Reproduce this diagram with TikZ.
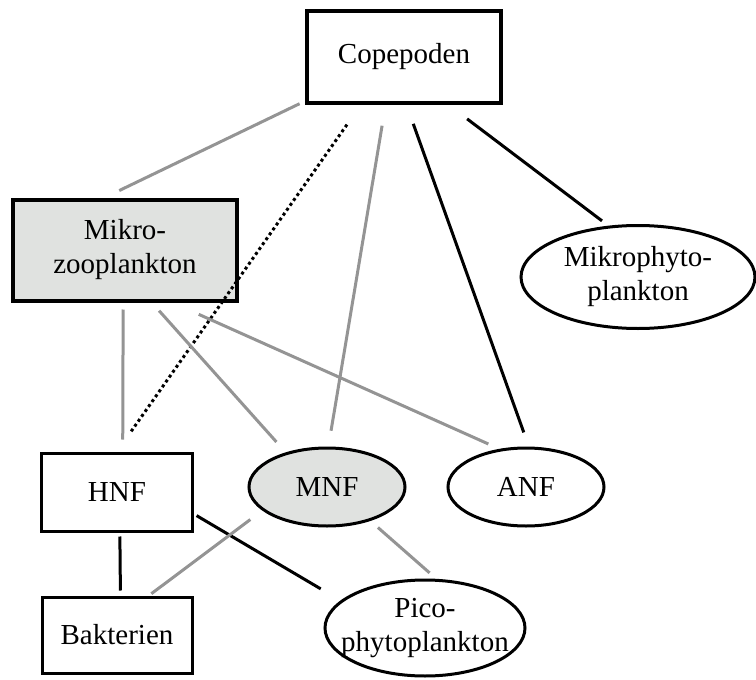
\documentclass[tikz,border=0pt]{standalone}
\usepackage{fontspec}
\setmainfont{Liberation Serif}
\usetikzlibrary{shapes.geometric}
\definecolor{linegray}{RGB}{148,148,148}
\definecolor{fillgray}{RGB}{224,226,224}
\newcommand{\nobox}[1]{\makebox[0pt]{#1}}

\begin{document}
\begin{tikzpicture}[x=1pt,y=-1pt]

\tikzset{box/.style = {shape=rectangle,draw,line width=3pt,inner sep=0pt,align=center,font=\fontsize{29}{34}\selectfont}}
\tikzset{oval/.style = {shape=ellipse,draw,line width=3pt,inner sep=0pt,align=center,font=\fontsize{29}{34}\selectfont}}
\tikzset{grayedge/.style = {draw=linegray,line width=3pt}}
\tikzset{blackedge/.style = {draw=black,line width=3pt}}
\tikzset{dotedge/.style = {draw=black,line width=3pt,dash pattern=on 3pt off 3pt}}

\useasboundingbox (0,0) rectangle (756,680);
%verticies
\node[box, line width=4pt, minimum width=194pt, minimum height=92pt] (cop) at (404,57) {Copepoden};
\node[box, line width=4pt, fill=fillgray, minimum width=224pt, minimum height=101pt] (mzoo) at (125,250) {Mikro-\\zooplankton};
\node[oval, minimum width=234pt, minimum height=103pt] (mphyto) at (638,277) {Mikrophyto-\\plankton};
\node[box, minimum width=151pt, minimum height=78pt] (hnf) at (117,492) {HNF};
\node[oval, fill=fillgray, minimum width=156pt, minimum height=78pt] (mnf) at (327,487) {MNF};
\node[oval, minimum width=156pt, minimum height=78pt] (anf) at (526,487) {ANF};
\node[box, minimum width=150pt, minimum height=76pt] (bakt) at (117,635) {Bakterien};
\node[oval, minimum width=200pt, minimum height=96pt] (pico) at (425,628) {\nobox{Pico-}\\\nobox{phytoplankton}};
%edges
\draw[grayedge, shorten <=6pt, shorten >=16pt] (cop.204) -- (mzoo.111);
\draw[dotedge, shorten <=24pt, shorten >=22pt] (cop.228) -- (hnf.90);
\draw[grayedge, shorten <=21pt, shorten >=16pt] (cop.249) -- (mnf.88);
\draw[blackedge, shorten <=20pt, shorten >=15pt] (cop.273) -- (anf.86);
\draw[blackedge, shorten <=23pt, shorten >=8pt] (cop.-47) -- (mphyto.120);
\draw[grayedge, shorten <=7pt, shorten >=12pt] (mzoo.268) -- (hnf.82);
\draw[grayedge, shorten <=11pt, shorten >=14pt] (mzoo.-63) -- (mnf.140);
\draw[grayedge, shorten <=29pt, shorten >=12pt] (mzoo.312) -- (anf.125);
\draw[blackedge, shorten <=4pt, shorten >=5pt] (hnf.274) -- (bakt.85);
\draw[blackedge, shorten <=3pt, shorten >=23pt] (hnf.344) -- (pico.162);
\draw[grayedge, shorten <=15pt, shorten >=3pt] (mnf.200) -- (bakt.51);
\draw[grayedge, shorten <=10pt, shorten >=9pt] (mnf.-38) -- (pico.77);

\end{tikzpicture}
\end{document}
